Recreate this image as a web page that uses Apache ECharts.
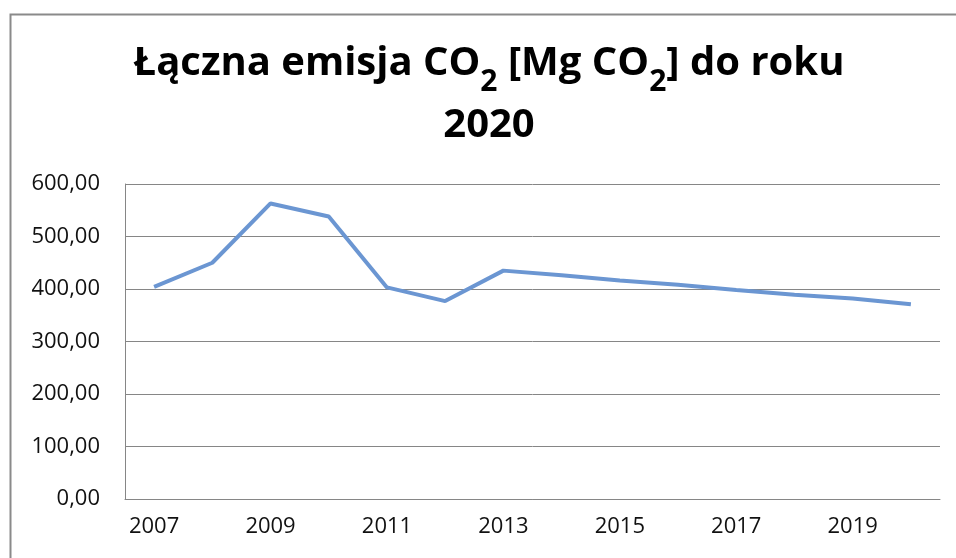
<!DOCTYPE html>
<html>
<head>
<meta charset="utf-8">
<script src="https://cdn.jsdelivr.net/npm/echarts@6/dist/echarts.min.js"></script>
<style>
html,body{margin:0;padding:0;background:#fff;}
#chart{width:956px;height:558px;}
</style>
</head>
<body>
<div id="chart"></div>
<script>
var years = ['2007','2008','2009','2010','2011','2012','2013','2014','2015','2016','2017','2018','2019','2020'];
var emissions = [404, 450, 563, 538, 403, 377, 435, 426, 416, 408, 398, 389, 382, 371];
var yMin = 0, yMax = 600, yStep = 100;

var chart = echarts.init(document.getElementById('chart'));
chart.setOption({
  animation: false,
  backgroundColor: '#ffffff',
  graphic: [{
    type: 'rect',
    left: 8, top: 12,
    shape: {width: 1000, height: 600},
    style: {fill: 'none', stroke: '#8a8a8a', lineWidth: 2},
    silent: true
  }],
  title: {
    text: '{a|Łączna emisja CO}{s|2}{a| [Mg CO}{s|2}{a|] do roku}\n{b|2020}',
    left: 489,
    top: 31,
    textAlign: 'center',
    padding: 0,
    textStyle: {
      fontFamily: 'Open Sans',
      fontWeight: 'bold',
      fontSize: 40,
      color: '#000',
      rich: {
        a: {fontFamily: 'Open Sans', fontWeight: 'bold', fontSize: 40, lineHeight: 66, color: '#000'},
        b: {fontFamily: 'Open Sans', fontWeight: 'bold', fontSize: 40, lineHeight: 58, color: '#000'},
        s: {fontFamily: 'Open Sans', fontWeight: 'bold', fontSize: 30, lineHeight: 30, verticalAlign: 'bottom', color: '#000'}
      }
    }
  },
  grid: {left: 125, right: 16, top: 184, bottom: 59, containLabel: false},
  xAxis: {
    type: 'category',
    data: years,
    boundaryGap: true,
    axisLine: {show: true, lineStyle: {color: '#868686', width: 1}},
    axisTick: {show: false},
    axisLabel: {interval: 1, margin: 17, color: '#111', fontFamily: 'Open Sans', fontSize: 22}
  },
  yAxis: {
    type: 'value',
    min: yMin, max: yMax, interval: yStep,
    axisLine: {show: true, lineStyle: {color: '#868686', width: 1}},
    axisTick: {show: false},
    splitLine: {show: true, lineStyle: {color: '#868686', width: 1}},
    axisLabel: {
      margin: 25, color: '#111', fontFamily: 'Open Sans', fontSize: 22,
      formatter: function (v) { return v.toFixed(2).replace('.', ','); }
    }
  },
  series: [{
    type: 'line',
    data: emissions,
    symbol: 'none',
    lineStyle: {color: '#6b96d2', width: 4},
    itemStyle: {color: '#6b96d2'}
  }]
});
</script>
</body>
</html>
